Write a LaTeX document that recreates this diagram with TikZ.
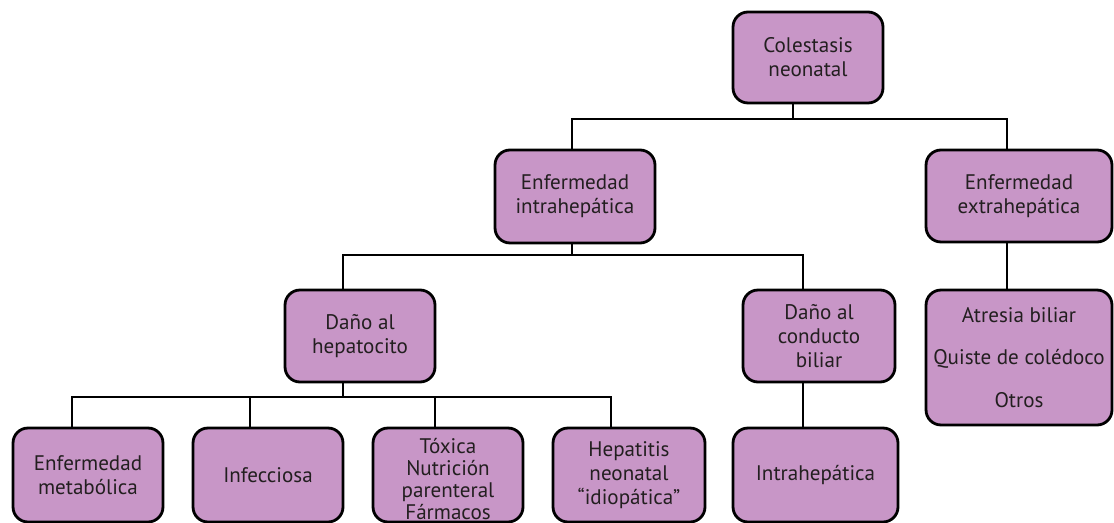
\documentclass[tikz,border=0pt]{standalone}
\usepackage{fontspec}
\setmainfont{PT Sans}
\definecolor{boxfill}{RGB}{200,150,199}
\definecolor{ink}{RGB}{35,31,32}
\begin{document}
\begin{tikzpicture}[x=0.02cm,y=-0.02cm,
  box/.style={draw=black, fill=boxfill, line width=1.6pt, rounded corners=0.3cm,
    inner sep=0pt, align=center, text=ink,
    font=\fontsize{12}{13.7}\selectfont},
  conn/.style={draw=black, line width=1.2pt}]
\useasboundingbox (0,0) rectangle (1114,523);
% nodes
\node[box, minimum width=3cm, minimum height=1.82cm] (col) at (808,57.5) {Colestasis\\neonatal};
\node[box, minimum width=3.2cm, minimum height=1.86cm] (intra) at (575,196.5) {Enfermedad\\intrahepática};
\node[box, minimum width=3.72cm, minimum height=1.84cm] (extra) at (1019,196) {Enfermedad\\extrahepática};
\node[box, minimum width=3cm, minimum height=1.84cm] (hep) at (360,336) {Daño al\\hepatocito};
\node[box, minimum width=3.04cm, minimum height=1.84cm] (cond) at (819,336) {Daño al\\conducto\\biliar};
\node[box, minimum width=3.72cm, minimum height=2.7cm] (atr) at (1019,357.5) {Atresia biliar\\[10.7pt]Quiste de colédoco\\[10.7pt]Otros};
\node[box, minimum width=3cm, minimum height=1.88cm] (met) at (88,475) {Enfermedad\\metabólica};
\node[box, minimum width=3cm, minimum height=1.88cm] (inf) at (268,475) {Infecciosa};
\node[box, minimum width=3cm, minimum height=1.88cm] (tox) at (448,475) {\raisebox{-4pt}[\height][\depth]{\fontsize{12}{12.4}\selectfont\begin{tabular}{@{}c@{}}Tóxica\\Nutrición\\parenteral\\Fármacos\end{tabular}}};
\node[box, minimum width=3.04cm, minimum height=1.88cm] (hepn) at (629,475) {Hepatitis\\neonatal\\“idiopática”};
\node[box, minimum width=3.3cm, minimum height=1.88cm] (intrab) at (815.5,475) {Intrahepática};
% junction coordinates
\coordinate (j1) at (793,119);
\coordinate (b1L) at (572,119);
\coordinate (b1R) at (1007,119);
\coordinate (j2) at (572,255);
\coordinate (b2L) at (343,255);
\coordinate (b2R) at (803,255);
\coordinate (j3) at (343,397);
\coordinate (b3L) at (72,397);
\coordinate (b3a) at (250,397);
\coordinate (b3b) at (435,397);
\coordinate (b3R) at (611,397);
% connectors
\draw[conn] (col.south -| j1) -- (j1);
\draw[conn] (intra.north -| b1L) -- (b1L) -- (b1R) -- (extra.north -| b1R);
\draw[conn] (intra.south -| j2) -- (j2);
\draw[conn] (hep.north -| b2L) -- (b2L) -- (b2R) -- (cond.north -| b2R);
\draw[conn] (extra.south -| b1R) -- (atr.north -| b1R);
\draw[conn] (hep.south -| j3) -- (j3);
\draw[conn] (met.north -| b3L) -- (b3L) -- (b3R) -- (hepn.north -| b3R);
\draw[conn] (inf.north -| b3a) -- (b3a);
\draw[conn] (tox.north -| b3b) -- (b3b);
\draw[conn] (cond.south -| b2R) -- (intrab.north -| b2R);
\end{tikzpicture}
\end{document}
